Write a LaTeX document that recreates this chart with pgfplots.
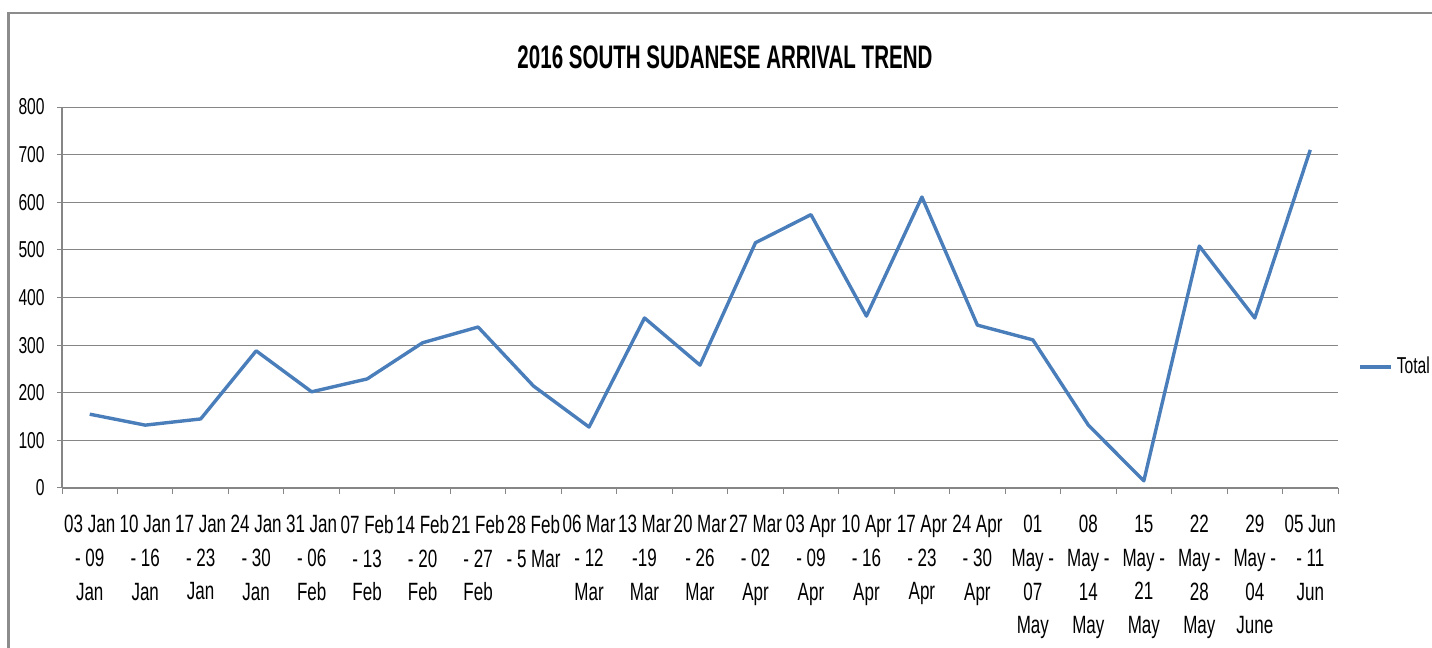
\documentclass[border=0pt]{standalone}
\usepackage{fontspec}
\setmainfont{Liberation Sans}[FakeStretch=0.68]
\newfontfamily\titlefont{Liberation Sans}[FakeStretch=0.63]
\usepackage{pgfplots}
\pgfplotsset{compat=1.18}
\definecolor{lineblue}{HTML}{4A7EBB}
\definecolor{gridgray}{HTML}{868686}
\definecolor{framegray}{HTML}{8C8C8C}
\begin{document}
\begin{tikzpicture}
\useasboundingbox (0,0) rectangle (716pt,324pt);
\fill[white] (0,0) rectangle (716pt,324pt);
\draw[framegray, line width=1.3pt] (4.25pt,0) -- (4.25pt,317.5pt) -- (716pt,317.5pt);
\draw[framegray, line width=0.6pt] (4.25pt,0) -- (4.25pt,317.5pt);
\node[font=\titlefont\bfseries\fontsize{16.3}{19}\selectfont] at (362.5pt,295.5pt) {2016 SOUTH SUDANESE ARRIVAL TREND};
\begin{axis}[
  at={(31pt,80pt)}, anchor=south west,
  scale only axis, width=638pt, height=190.5pt,
  xmin=-0.5, xmax=22.5, ymin=0, ymax=800,
  ytick={0,100,...,800},
  xtick={0,...,22},
  minor xtick={-0.5,0.5,...,22.5},
  axis x line*=bottom, axis y line*=left,
  axis line style={-, draw=gridgray, line width=0.6pt},
  tick align=outside,
  major tick length=2.5pt,
  minor tick length=3pt,
  major x tick style={draw=none},
  minor x tick style={draw=gridgray, line width=0.5pt},
  major y tick style={draw=gridgray, line width=0.5pt},
  ymajorgrids, major grid style={draw=gridgray, line width=0.5pt},
  /pgf/number format/assume math mode=true,
  yticklabel style={font=\fontsize{11.5}{13}\selectfont, inner sep=0pt, xshift=-6pt},
  xticklabel style={font=\fontsize{12.5}{16.8}\selectfont, inner sep=0pt, yshift=-11pt, align=center},
  xticklabels={{03 Jan\\- 09\\Jan},{10 Jan\\- 16\\Jan},{17 Jan\\- 23\\Jan},{24 Jan\\- 30\\Jan},{31 Jan\\- 06\\Feb},{07 Feb\\- 13\\Feb},{14 Feb\\- 20\\Feb},{21 Feb\\- 27\\Feb},{28 Feb\\- 5 Mar},{06 Mar\\- 12\\Mar},{13 Mar\\-19\\Mar},{20 Mar\\- 26\\Mar},{27 Mar\\- 02\\Apr},{03 Apr\\- 09\\Apr},{10 Apr\\- 16\\Apr},{17 Apr\\- 23\\Apr},{24 Apr\\- 30\\Apr},{01\\May -\\07\\May},{08\\May -\\14\\May},{15\\May -\\21\\May},{22\\May -\\28\\May},{29\\May -\\04\\June},{05 Jun\\- 11\\Jun}},
  legend style={at={(axis description cs:1,0.318)}, anchor=west, xshift=10pt, draw=none, fill=none, font=\fontsize{11.5}{13}\selectfont, inner sep=0pt},
  legend image code/.code={\draw[#1] (0pt,0pt) -- (15.5pt,0pt);},
  clip=false,
]
\addplot[lineblue, line width=1.7pt, line join=round] coordinates {
(0,155) (1,132) (2,145) (3,288) (4,202) (5,229) (6,305) (7,338) (8,214) (9,128)
(10,357) (11,258) (12,515) (13,574) (14,361) (15,611) (16,342) (17,311) (18,132)
(19,15) (20,508) (21,357) (22,710)
};
\addlegendentry{Total}
\end{axis}
\end{tikzpicture}
\end{document}
